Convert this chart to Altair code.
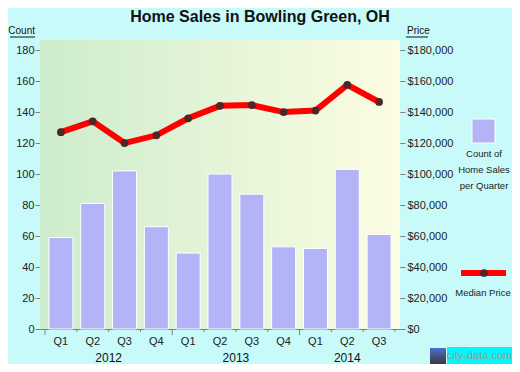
import altair as alt
import pandas as pd

# ---- data ----
quarters = ["Q1", "Q2", "Q3", "Q4", "Q1", "Q2", "Q3", "Q4", "Q1", "Q2", "Q3"]
years = ["2012", "2012", "2012", "2012", "2013", "2013", "2013", "2013", "2014", "2014", "2014"]
counts = [59, 81, 102, 66, 49, 100, 87, 53, 52, 103, 61]
prices = [127000, 134000, 120000, 125000, 136000, 144000, 144500, 140000, 141000, 157500, 146500]
count_ticks = [0, 20, 40, 60, 80, 100, 120, 140, 160, 180]
price_ticks = [0, 20000, 40000, 60000, 80000, 100000, 120000, 140000, 160000, 180000]

FONT = "Liberation Sans"
W, H = 360, 289
N = len(quarters)

df = pd.DataFrame({"i": list(range(N)), "quarter": quarters, "year": years,
                   "count": counts, "price": prices})
bounds = pd.DataFrame({"b": list(range(N + 1)),
                       "major": [bool(b < N and quarters[b] == "Q1") for b in range(N + 1)]})
one = pd.DataFrame({"k": [0]})

xscale = alt.Scale(domain=[0, N], nice=False, zero=False)

bg = alt.Chart(one).mark_rect(
    fill=alt.LinearGradient(gradient="linear", x1=0, x2=1, y1=0, y2=0,
                            stops=[alt.GradientStop(offset=0, color="#cdeccd"),
                                   alt.GradientStop(offset=1, color="#fcfde2")])).encode(
    x=alt.value(0), x2=alt.value(W), y=alt.value(0), y2=alt.value(H))

base = alt.Chart(df).transform_calculate(xc="datum.i + 0.5")

bars = base.mark_bar(width=24, color="#b3b3f8", stroke="white", strokeWidth=1).encode(
    x=alt.X("xc:Q", scale=xscale,
            axis=alt.Axis(labels=False, ticks=False, grid=False, domain=True,
                          domainColor="#808080", title=None)),
    y=alt.Y("count:Q", scale=alt.Scale(domain=[0, 186.5], nice=False),
            axis=alt.Axis(orient="left", values=count_ticks, grid=True, gridColor="#808080",
                          gridWidth=1, domain=False, tickColor="#808080", tickSize=5,
                          labelPadding=1, labelFont=FONT, labelFontSize=11,
                          labelColor="#222222", title=None)),
)

line = base.mark_line(color="#ff0000", strokeWidth=6,
                      point=alt.OverlayMarkDef(filled=True, color="#4d2626", size=60, opacity=1)).encode(
    x=alt.X("xc:Q", scale=xscale),
    y=alt.Y("price:Q", scale=alt.Scale(domain=[0, 186500], nice=False),
            axis=alt.Axis(orient="right", values=price_ticks, format="$,.0f", grid=False,
                          domain=False, tickColor="#808080", tickSize=5, labelPadding=2,
                          labelFont=FONT, labelFontSize=11, labelColor="#222222", title=None)),
)

tick_base = alt.Chart(bounds).mark_rule(color="#808080", strokeWidth=1)
ticks_major = tick_base.transform_filter("datum.major").encode(
    x=alt.X("b:Q", scale=xscale), y=alt.value(H), y2=alt.value(H + 6))
ticks_minor = tick_base.transform_filter("!datum.major").encode(
    x=alt.X("b:Q", scale=xscale), y=alt.value(H), y2=alt.value(H + 3))

qlabels = base.mark_text(font=FONT, fontSize=11, color="#222222", baseline="middle").encode(
    x=alt.X("xc:Q", scale=xscale), y=alt.value(H + 13), text="quarter:N")

ylabels = base.transform_aggregate(xm="mean(xc)", groupby=["year"]).mark_text(
    font=FONT, fontSize=12, color="#111111", baseline="middle").encode(
    x=alt.X("xm:Q", scale=xscale), y=alt.value(H + 29), text="year:N")


def txt(s, x, y, size=10, align="center", weight="normal", color="#222222"):
    return alt.Chart(one).mark_text(font=FONT, fontSize=size, align=align, baseline="middle",
                                    fontWeight=weight, color=color).encode(
        x=alt.value(x), y=alt.value(y), text=alt.value(s))


def hline(x1, x2, y, color="#111111", w=1):
    return alt.Chart(one).mark_rule(color=color, strokeWidth=w).encode(
        x=alt.value(x1), x2=alt.value(x2), y=alt.value(y))


title = txt("Home Sales in Bowling Green, OH", 220, -23, size=16, weight="bold", color="#111111")
count_t = txt("Count", -5, -9, size=10, align="right", color="#111111")
count_u = hline(-30, -5, -3)
price_t = txt("Price", 367, -9, size=10, align="left", color="#111111")
price_u = hline(366, 388, -3)

LX = 444
leg_box = alt.Chart(one).mark_rect(fill="#b3b3f8", stroke="white", strokeWidth=1).encode(
    x=alt.value(LX - 12), x2=alt.value(LX + 11), y=alt.value(79), y2=alt.value(103))
leg_t1 = txt("Count of", LX, 114, size=9.5)
leg_t2 = txt("Home Sales", LX, 130, size=9.5)
leg_t3 = txt("per Quarter", LX, 146, size=9.5)
leg_line = hline(LX - 23, LX + 22, 233, color="#ff0000", w=6)
leg_dot = alt.Chart(one).mark_point(filled=True, color="#4d2626", size=60, opacity=1).encode(
    x=alt.value(LX), y=alt.value(233))
leg_t4 = txt("Median Price", LX - 1, 253, size=9.5)

wm_box = alt.Chart(one).mark_rect(fill="#00f8f8").encode(
    x=alt.value(407), x2=alt.value(472), y=alt.value(307), y2=alt.value(324))
wm_icon = alt.Chart(one).mark_rect(
    fill=alt.LinearGradient(gradient="linear", x1=0, x2=0, y1=0, y2=1,
                            stops=[alt.GradientStop(offset=0, color="#4a6fd0"),
                                   alt.GradientStop(offset=1, color="#3a3a3a")])).encode(
    x=alt.value(390), x2=alt.value(406), y=alt.value(308), y2=alt.value(324))
wm_text = txt("city-data.com", 439.5, 316, size=11, color="#9a9a9a")

chart = alt.layer(
    bg, bars, line, ticks_major, ticks_minor, qlabels, ylabels,
    title, count_t, count_u, price_t, price_u,
    leg_box, leg_t1, leg_t2, leg_t3, leg_line, leg_dot, leg_t4,
    wm_box, wm_icon, wm_text,
).resolve_scale(y="independent").properties(
    width=W, height=H,
    background="#c8fafa",
    padding={"left": 32, "top": 32, "right": 112, "bottom": 35},
    autosize=alt.AutoSizeParams(type="none"),
).configure_view(stroke=None)

chart.save("out.html", embed_options={"renderer": "svg", "actions": False})
